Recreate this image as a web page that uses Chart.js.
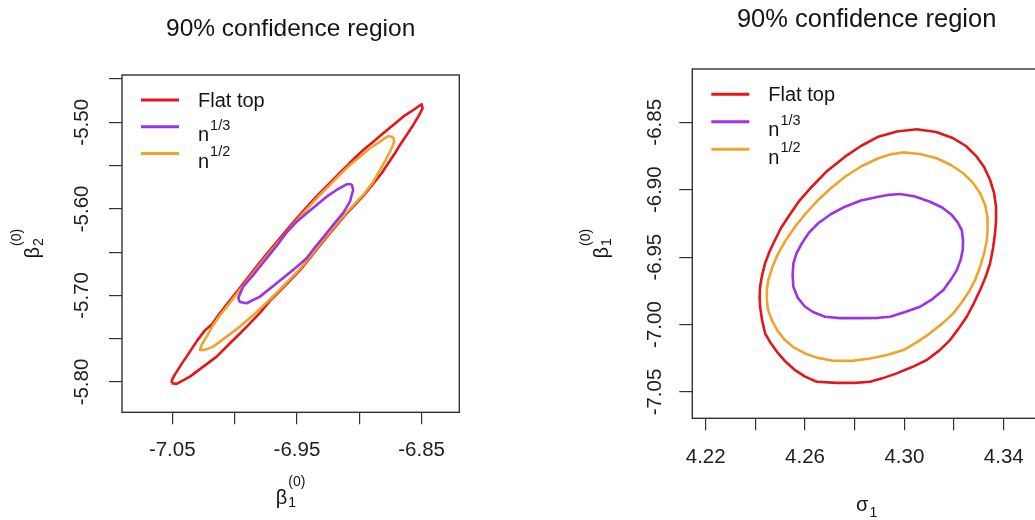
<!DOCTYPE html>
<html>
<head>
<meta charset="utf-8">
<script src="https://cdn.jsdelivr.net/npm/chart.js@4.4.1/dist/chart.umd.min.js"></script>
<style>
  html, body { margin: 0; padding: 0; background: #fff; overflow: hidden; }
  body { width: 1035px; height: 520px; position: relative; }
  canvas { position: absolute; top: 0; }
  #left { left: 0; }
  #right { left: 515px; }
</style>
</head>
<body>
<canvas id="left" width="515" height="520"></canvas>
<canvas id="right" width="530" height="520"></canvas>
<script>
// contour points, [x, y]
const redL = [
  [-7.0505,-5.8014],[-7.0465,-5.8022],[-7.0358,-5.7938],[-7.0251,-5.7822],[-7.0144,-5.7707],[-7.0037,-5.7552],
  [-6.9957,-5.7440],[-6.9877,-5.7323],[-6.9797,-5.7202],[-6.9717,-5.7063],[-6.9583,-5.6868],[-6.9476,-5.6707],
  [-6.9404,-5.6582],[-6.9342,-5.6468],[-6.9262,-5.6326],[-6.9182,-5.6188],[-6.9102,-5.6054],[-6.9021,-5.5930],
  [-6.8955,-5.5829],[-6.8883,-5.5701],[-6.8821,-5.5589],[-6.8768,-5.5473],[-6.8714,-5.5358],[-6.8674,-5.5262],
  [-6.8620,-5.5147],[-6.8567,-5.5031],[-6.8527,-5.4935],[-6.8492,-5.4838],[-6.8500,-5.4792],
  [-6.8567,-5.4858],[-6.8648,-5.4935],[-6.8728,-5.5031],[-6.8808,-5.5127],[-6.8888,-5.5224],[-6.8968,-5.5320],
  [-6.9049,-5.5430],[-6.9091,-5.5493],[-6.9163,-5.5594],[-6.9243,-5.5711],[-6.9324,-5.5828],[-6.9404,-5.5952],
  [-6.9484,-5.6081],[-6.9564,-5.6215],[-6.9644,-5.6351],[-6.9725,-5.6492],[-6.9805,-5.6633],[-6.9885,-5.6778],
  [-6.9965,-5.6925],[-7.0045,-5.7072],[-7.0126,-5.7221],[-7.0179,-5.7329],[-7.0238,-5.7404],[-7.0302,-5.7525],
  [-7.0362,-5.7658],[-7.0430,-5.7802],[-7.0478,-5.7912],[-7.0502,-5.7976]
];
const purpleL = [
  [-6.9061,-5.5716],[-6.9049,-5.5782],[-6.9075,-5.5917],[-6.9129,-5.6047],[-6.9209,-5.6186],[-6.9289,-5.6330],
  [-6.9369,-5.6469],[-6.9422,-5.6570],[-6.9530,-5.6705],[-6.9663,-5.6859],[-6.9797,-5.7014],[-6.9903,-5.7090],
  [-6.9957,-5.7075],[-6.9971,-5.7029],[-6.9931,-5.6898],[-6.9850,-5.6763],[-6.9770,-5.6619],[-6.9663,-5.6428],
  [-6.9583,-5.6272],[-6.9502,-5.6148],[-6.9422,-5.6051],[-6.9342,-5.5955],[-6.9262,-5.5859],[-6.9182,-5.5782],
  [-6.9102,-5.5716]
];
const orangeL = [
  [-6.8728,-5.5170],[-6.8770,-5.5158],[-6.8834,-5.5224],[-6.8915,-5.5300],[-6.8995,-5.5397],[-6.9075,-5.5493],
  [-6.9155,-5.5605],[-6.9235,-5.5723],[-6.9316,-5.5840],[-6.9396,-5.5963],[-6.9476,-5.6092],[-6.9556,-5.6226],
  [-6.9636,-5.6363],[-6.9717,-5.6503],[-6.9797,-5.6644],[-6.9877,-5.6790],[-6.9957,-5.6936],[-7.0037,-5.7083],
  [-7.0118,-5.7232],[-7.0171,-5.7341],[-7.0224,-5.7476],[-7.0264,-5.7572],[-7.0278,-5.7629],
  [-7.0238,-5.7629],[-7.0171,-5.7591],[-7.0064,-5.7476],[-6.9957,-5.7360],[-6.9850,-5.7227],[-6.9717,-5.7047],
  [-6.9583,-5.6854],[-6.9476,-5.6693],[-6.9404,-5.6568],[-6.9342,-5.6454],[-6.9262,-5.6312],[-6.9182,-5.6174],
  [-6.9102,-5.6040],[-6.9021,-5.5916],[-6.8955,-5.5815],[-6.8888,-5.5686],[-6.8834,-5.5551],[-6.8781,-5.5416],
  [-6.8741,-5.5300],[-6.8720,-5.5224]
];

const redR = [
  [4.3050,-6.8552],[4.3128,-6.8572],[4.3197,-6.8619],[4.3248,-6.8676],[4.3291,-6.8755],[4.3321,-6.8832],
  [4.3345,-6.8928],[4.3361,-6.9024],[4.3369,-6.9126],[4.3369,-6.9225],[4.3365,-6.9323],[4.3357,-6.9432],
  [4.3345,-6.9546],[4.3327,-6.9648],[4.3305,-6.9744],[4.3279,-6.9844],[4.3251,-6.9942],[4.3218,-7.0030],
  [4.3184,-7.0115],[4.3140,-7.0193],[4.3090,-7.0263],[4.3031,-7.0315],[4.2969,-7.0362],[4.2914,-7.0397],
  [4.2862,-7.0424],[4.2801,-7.0432],[4.2728,-7.0432],[4.2647,-7.0424],[4.2600,-7.0386],[4.2560,-7.0338],
  [4.2523,-7.0278],[4.2492,-7.0214],[4.2463,-7.0141],[4.2439,-7.0065],[4.2427,-6.9967],[4.2419,-6.9868],
  [4.2417,-6.9796],[4.2419,-6.9720],[4.2427,-6.9633],[4.2439,-6.9546],[4.2457,-6.9458],[4.2479,-6.9373],
  [4.2503,-6.9284],[4.2533,-6.9200],[4.2576,-6.9084],[4.2627,-6.8978],[4.2689,-6.8861],[4.2761,-6.8755],
  [4.2825,-6.8676],[4.2895,-6.8607],[4.2970,-6.8568]
];
const purpleR = [
  [4.2983,-6.9032],[4.3043,-6.9050],[4.3103,-6.9089],[4.3152,-6.9132],[4.3191,-6.9188],[4.3214,-6.9240],
  [4.3231,-6.9299],[4.3236,-6.9373],[4.3235,-6.9447],[4.3226,-6.9522],[4.3211,-6.9596],[4.3186,-6.9670],
  [4.3157,-6.9744],[4.3113,-6.9811],[4.3063,-6.9868],[4.3003,-6.9907],[4.2942,-6.9942],[4.2895,-6.9950],
  [4.2821,-6.9952],[4.2741,-6.9952],[4.2680,-6.9942],[4.2632,-6.9907],[4.2600,-6.9868],[4.2570,-6.9800],
  [4.2553,-6.9720],[4.2550,-6.9633],[4.2553,-6.9546],[4.2566,-6.9470],[4.2587,-6.9398],[4.2616,-6.9318],
  [4.2653,-6.9249],[4.2705,-6.9180],[4.2761,-6.9126],[4.2825,-6.9080],[4.2895,-6.9052],[4.2938,-6.9038]
];
const orangeR = [
  [4.2996,-6.8723],[4.3063,-6.8735],[4.3130,-6.8767],[4.3188,-6.8817],[4.3237,-6.8878],[4.3275,-6.8947],
  [4.3305,-6.9027],[4.3325,-6.9114],[4.3334,-6.9200],[4.3335,-6.9284],[4.3332,-6.9373],[4.3321,-6.9473],
  [4.3305,-6.9571],[4.3287,-6.9659],[4.3264,-6.9744],[4.3232,-6.9833],[4.3197,-6.9917],[4.3152,-6.9993],
  [4.3103,-7.0065],[4.3051,-7.0130],[4.2996,-7.0189],[4.2930,-7.0226],[4.2862,-7.0251],[4.2789,-7.0269],
  [4.2707,-7.0267],[4.2648,-7.0245],[4.2600,-7.0214],[4.2556,-7.0171],[4.2519,-7.0115],[4.2489,-7.0045],
  [4.2466,-6.9967],[4.2451,-6.9892],[4.2446,-6.9818],[4.2446,-6.9744],[4.2452,-6.9670],[4.2469,-6.9570],
  [4.2492,-6.9472],[4.2523,-6.9373],[4.2560,-6.9274],[4.2604,-6.9173],[4.2653,-6.9076],[4.2705,-6.8987],
  [4.2761,-6.8904],[4.2825,-6.8828],[4.2895,-6.8767],[4.2942,-6.8739]
];

const seriesNames = ["Flat top", "n", "n"];
const seriesSup = ["", "1/3", "1/2"];
const seriesColors = ["#e3161c", "#9a34e4", "#f0a42c"];

// axis ranges and tick labels
const xRangeL = [-7.0903, -6.8198], yRangeL = [-5.8350, -5.4454];
const xRangeR = [4.2146, 4.3550], yRangeR = [-7.0695, -6.8105];
const xLabelsL = [-7.05, -6.95, -6.85];
const yLabelsL = [-5.50, -5.60, -5.70, -5.80];
const xLabelsR = [4.22, 4.26, 4.30, 4.34];
const yLabelsR = [-6.85, -6.90, -6.95, -7.00, -7.05];

const FONT = '"Liberation Sans", Arial, sans-serif';

function exprSize(ctx, e) {
  ctx.font = e.size + "px " + FONT;
  const wb = ctx.measureText(e.base).width;
  ctx.font = e.small + "px " + FONT;
  const ws = Math.max(e.sub ? ctx.measureText(e.sub).width : 0, e.sup ? ctx.measureText(e.sup).width : 0);
  return { wb: wb, w: wb + (ws ? ws + 1 : 0) };
}

function drawExpr(ctx, x, y, e, centered) {
  const m = exprSize(ctx, e);
  const x0 = centered ? x - m.w / 2 : x;
  ctx.textAlign = "left";
  ctx.textBaseline = "alphabetic";
  ctx.font = e.size + "px " + FONT;
  ctx.fillText(e.base, x0, y);
  ctx.font = e.small + "px " + FONT;
  if (e.sub) ctx.fillText(e.sub, x0 + m.wb + 1, y + e.subDy);
  if (e.sup) ctx.fillText(e.sup, x0 + m.wb + 1, y + e.supDy);
}

// box, titles and legend drawn the R way
const rPlot = {
  id: "rPlot",
  afterDraw(chart, args, o) {
    const ctx = chart.ctx;
    const a = chart.chartArea;
    const cx = (a.left + a.right) / 2;
    ctx.save();
    ctx.strokeStyle = "#333";
    ctx.lineWidth = 1.4;
    ctx.strokeRect(a.left, a.top, a.right - a.left, a.bottom - a.top);

    ctx.fillStyle = "#141414";
    ctx.font = o.titleSize + "px " + FONT;
    ctx.textAlign = "center";
    ctx.textBaseline = "alphabetic";
    ctx.fillText(o.title, cx, o.titleY);

    drawExpr(ctx, cx, o.xTitleY, o.xTitle, true);
    ctx.save();
    ctx.translate(o.yTitleX, (a.top + a.bottom) / 2);
    ctx.rotate(-Math.PI / 2);
    drawExpr(ctx, 0, 0, o.yTitle, true);
    ctx.restore();

    seriesNames.forEach(function (name, i) {
      const yc = a.top + o.legendTop + i * o.legendStep;
      ctx.strokeStyle = seriesColors[i];
      ctx.lineWidth = 3;
      ctx.beginPath();
      ctx.moveTo(a.left + 19, yc);
      ctx.lineTo(a.left + 57, yc);
      ctx.stroke();
      ctx.fillStyle = "#141414";
      if (seriesSup[i]) {
        drawExpr(ctx, a.left + 76, yc + 14.5, { base: name, sup: seriesSup[i], size: 20, small: 14.5, supDy: -11.5 }, false);
      } else {
        ctx.font = "20px " + FONT;
        ctx.textAlign = "left";
        ctx.fillText(name, a.left + 76, yc + 7);
      }
    });
    ctx.restore();
  }
};

function loop(points) {
  const d = points.map(function (p) { return { x: p[0], y: p[1] }; });
  d.push({ x: points[0][0], y: points[0][1] });
  return d;
}

function labelFor(list) {
  return function (v) {
    const hit = list.find(function (t) { return Math.abs(t - v) < 1e-6; });
    return hit === undefined ? "" : hit.toFixed(2);
  };
}

const tickFont = { family: FONT, size: 20.5 };

function panel(id, o) {
  const ds = function (pts, i, order) {
    return {
      label: seriesNames[i] + seriesSup[i],
      data: loop(pts),
      showLine: true,
      borderColor: seriesColors[i],
      backgroundColor: seriesColors[i],
      borderWidth: 2.6,
      borderJoinStyle: "round",
      pointRadius: 0,
      fill: false,
      tension: 0,
      order: order
    };
  };
  return new Chart(document.getElementById(id).getContext("2d"), {
    type: "scatter",
    data: { datasets: [ds(o.red, 0, 3), ds(o.purple, 1, 1), ds(o.orange, 2, 2)] },
    options: {
      responsive: false,
      animation: false,
      devicePixelRatio: 1,
      layout: { padding: { left: 0, top: o.top, right: o.right, bottom: 0 } },
      plugins: {
        legend: { display: false },
        tooltip: { enabled: false },
        rPlot: o.deco
      },
      scales: {
        x: {
          type: "linear",
          position: "bottom",
          min: o.xRange[0],
          max: o.xRange[1],
          afterFit: function (s) { s.height = o.xAxisH; },
          border: { display: false },
          grid: { drawOnChartArea: false, tickLength: 12, color: "#333", lineWidth: 1.2 },
          ticks: {
            stepSize: o.xStep,
            includeBounds: false,
            autoSkip: false,
            maxRotation: 0,
            padding: o.xPad,
            color: "#1e1e1e",
            font: tickFont,
            callback: labelFor(o.xLabels)
          }
        },
        y: {
          type: "linear",
          position: "left",
          min: o.yRange[0],
          max: o.yRange[1],
          afterFit: function (s) { s.width = o.yAxisW; },
          border: { display: false },
          grid: { drawOnChartArea: false, tickLength: 13, color: "#333", lineWidth: 1.2 },
          ticks: {
            stepSize: 0.05,
            includeBounds: false,
            autoSkip: false,
            minRotation: 90,
            maxRotation: 90,
            crossAlign: "center",
            padding: o.yPad,
            color: "#1e1e1e",
            font: tickFont,
            callback: labelFor(o.yLabels)
          }
        }
      }
    },
    plugins: [rPlot]
  });
}

panel("left", {
  red: redL, purple: purpleL, orange: orangeL,
  xRange: xRangeL, yRange: yRangeL, xLabels: xLabelsL, yLabels: yLabelsL,
  xStep: 0.05, top: 75, right: 55.7, xAxisH: 107.7, yAxisW: 122, xPad: 14, yPad: 3.6,
  deco: {
    title: "90% confidence region", titleSize: 24.5, titleY: 35.7,
    xTitle: { base: "\u03b2", sub: "1", sup: "(0)", size: 20, small: 14, subDy: 3.5, supDy: -18 },
    xTitleY: 503.5,
    yTitle: { base: "\u03b2", sub: "2", sup: "(0)", size: 20, small: 14, subDy: 3.5, supDy: -18 },
    yTitleX: 39,
    legendTop: 25, legendStep: 26.7
  }
});

panel("right", {
  red: redR, purple: purpleR, orange: orangeR,
  xRange: xRangeR, yRange: yRangeR, xLabels: xLabelsR, yLabels: yLabelsR,
  xStep: 0.02, top: 69, right: 4, xAxisH: 101.7, yAxisW: 177.3, xPad: 14.4, yPad: 1,
  deco: {
    title: "90% confidence region", titleSize: 25.5, titleY: 26.7,
    xTitle: { base: "\u03c3", sub: "1", size: 20, small: 14, subDy: 5.5 },
    xTitleY: 511,
    yTitle: { base: "\u03b2", sub: "1", sup: "(0)", size: 20, small: 14, subDy: 3.5, supDy: -18 },
    yTitleX: 92.7,
    legendTop: 25.3, legendStep: 27.5
  }
});
</script>
</body>
</html>
